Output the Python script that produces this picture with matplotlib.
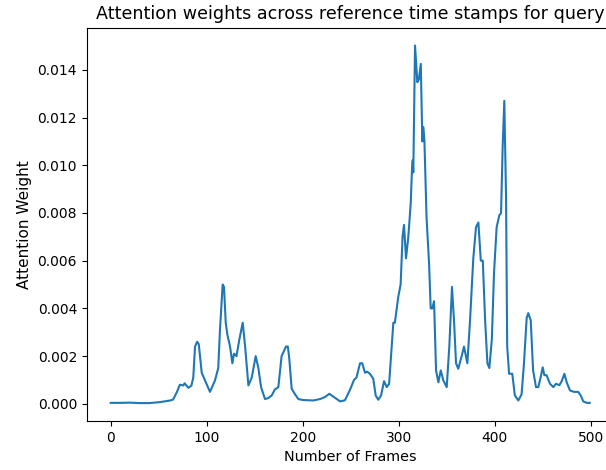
import matplotlib
matplotlib.use("Agg")
import matplotlib.pyplot as plt

# frame index and attention weight
frames = [0, 10, 20, 30, 40, 51, 62, 65, 69, 72, 75.6, 77, 80.8, 84, 86, 87.8, 90, 91.7,
          94.8, 98, 103.4, 108.6, 112, 113.8, 116.6, 118, 119.8, 121.5, 124.3, 126.7, 128.4,
          131, 134, 137.5, 140, 143.4, 146.9, 151, 153.8, 156.6, 160.7, 164, 167.7, 171,
          174.6, 178, 182.6, 184.5, 186, 188.5, 192, 195.4, 200, 211, 218, 223, 227.7, 232,
          239, 244, 249.3, 253.4, 256, 259.7, 262, 264.9, 267, 270, 273.5, 276, 278.7, 281.6,
          284.7, 287.5, 290, 294.4, 296, 299.6, 302, 304, 305.5, 307.6, 310, 312.5, 313.9,
          314.6, 315.2, 317, 319.4, 321, 323, 324.6, 325.7, 326.8, 329, 331.6, 333.3, 335,
          336.8, 338.9, 341.3, 343.8, 346.5, 350, 352.7, 355.5, 357.6, 359.7, 362, 365.6, 368,
          371.5, 374.3, 377.7, 380.5, 383, 385.5, 387.6, 390, 392.4, 394.4, 397, 399.3, 402,
          404.8, 406.6, 408.3, 410, 411.8, 413, 415, 418.3, 421, 424.6, 428, 430.5, 433.3,
          435, 437.5, 440, 443, 445.4, 447.8, 450, 451.7, 454, 457.6, 461, 463.9, 467.4,
          469.8, 472.6, 475, 478.4, 482.6, 487, 489.6, 492.3, 495.9, 499]
weights = [0.00004, 0.00004, 0.00005, 0.00003, 0.00003, 0.00007, 0.00014, 0.00018, 0.0005,
           0.0008, 0.00077, 0.00086, 0.00067, 0.00076, 0.0011, 0.0024, 0.0026, 0.0025,
           0.0013, 0.001, 0.0005, 0.00098, 0.0015, 0.0031, 0.005, 0.0049, 0.0034, 0.0029,
           0.0024, 0.0017, 0.0021, 0.002, 0.0027, 0.0034, 0.0024, 0.00077, 0.0011, 0.002,
           0.0015, 0.0007, 0.0002, 0.00024, 0.00035, 0.0006, 0.0007, 0.002, 0.0024, 0.0024,
           0.0019, 0.00063, 0.0004, 0.0002, 0.00016, 0.00014, 0.0002, 0.00028, 0.00042,
           0.0003, 0.0001, 0.00015, 0.00059, 0.001, 0.0011, 0.0017, 0.0017, 0.0013, 0.00135,
           0.00126, 0.00105, 0.00035, 0.00017, 0.00035, 0.00095, 0.0007, 0.00084, 0.0034,
           0.0034, 0.0045, 0.005, 0.007, 0.0075, 0.0061, 0.007, 0.0084, 0.0099, 0.0102,
           0.0097, 0.01502, 0.01348, 0.0136, 0.01425, 0.011, 0.0116, 0.011, 0.0078, 0.0059,
           0.004, 0.004, 0.0043, 0.0014, 0.0009, 0.0014, 0.00098, 0.0007, 0.0024, 0.0049,
           0.0035, 0.0017, 0.00147, 0.002, 0.0024, 0.0017, 0.0035, 0.0061, 0.0074, 0.0076,
           0.006, 0.006, 0.0035, 0.0017, 0.0015, 0.0027, 0.0055, 0.0074, 0.0079, 0.008,
           0.0108, 0.0127, 0.0087, 0.0024, 0.00126, 0.00126, 0.00035, 0.00014, 0.0004,
           0.0017, 0.0036, 0.0038, 0.0035, 0.0014, 0.0007, 0.0007, 0.0011, 0.00153, 0.0012,
           0.0012, 0.00084, 0.0007, 0.00084, 0.00078, 0.00095, 0.00126, 0.0009, 0.00056,
           0.0005, 0.0005, 0.00035, 0.0001, 0.00004, 0.00004]

fig = plt.figure(figsize=(6.06, 4.7), dpi=100)
# the reference is cropped on the right, so the right spine sits off the canvas
ax = fig.add_axes([0.1432, 0.1043, 0.8695, 0.837])
ax.plot(frames, weights)
ax.set_title("Attention weights across reference time stamps for query", fontsize=12.6)
ax.set_xlabel("Number of Frames", fontsize=10.4)
ax.set_ylabel("Attention Weight", fontsize=11)
fig.savefig("out.png", dpi=100)
